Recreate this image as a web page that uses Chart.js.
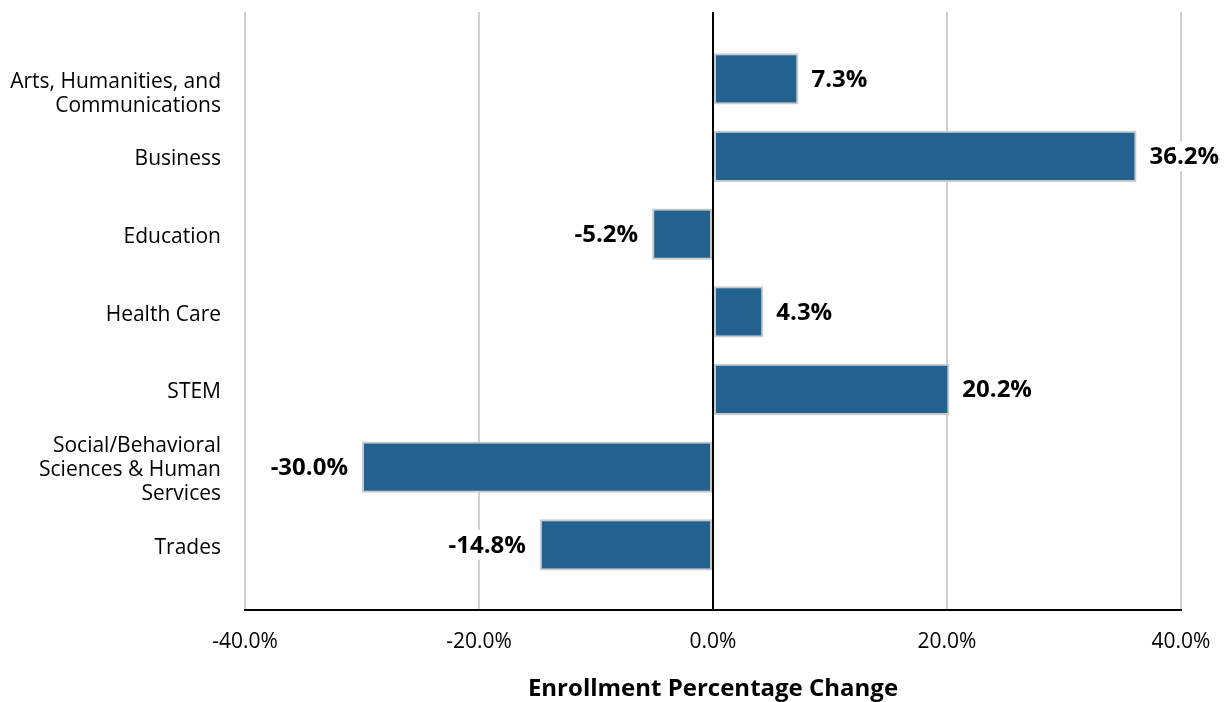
<!DOCTYPE html>
<html>
<head>
<meta charset="utf-8">
<script src="https://cdn.jsdelivr.net/npm/chart.js@4"></script>
<style>
  html, body { margin: 0; padding: 0; background: #fff; }
  #wrap { width: 1225px; height: 702px; }
</style>
</head>
<body>
<div id="wrap"><canvas id="enrollChart" width="1225" height="702"></canvas></div>
<script>
// Enrollment change by program area

// first label sits a line lower in the original, hence the leading blank line
const categories = [
  ['', 'Arts, Humanities, and', 'Communications'],
  ['Business'],
  ['Education'],
  ['Health Care'],
  ['STEM'],
  ['Social/Behavioral', 'Sciences & Human', 'Services'],
  ['Trades']
];
const changeValues = [7.3, 36.2, -5.2, 4.3, 20.2, -30.0, -14.8];
const xTicks = [-40, -20, 0, 20, 40];

const FONT = "'Open Sans', 'Noto Sans', sans-serif";

// zero line on top of the bars, labels with white box behind
const overlayPlugin = {
  id: 'overlay',
  afterDatasetsDraw(chart) {
    const ctx = chart.ctx;
    const xs = chart.scales.x;
    const area = chart.chartArea;
    const x0 = xs.getPixelForValue(0);
    ctx.save();
    ctx.strokeStyle = '#000';
    ctx.lineWidth = 2;
    ctx.beginPath();
    ctx.moveTo(x0, area.top);
    ctx.lineTo(x0, area.bottom);
    ctx.stroke();

    ctx.font = 'bold 24px ' + FONT;
    ctx.textBaseline = 'middle';
    const meta = chart.getDatasetMeta(0);
    meta.data.forEach((bar, i) => {
      const v = changeValues[i];
      const txt = v.toFixed(1) + '%';
      const w = ctx.measureText(txt).width;
      let tx;
      if (v >= 0) {
        ctx.textAlign = 'left';
        tx = bar.x + 13;
        ctx.fillStyle = '#fff';
        ctx.fillRect(tx - 2, bar.y - 15, w + 4, 30);
      } else {
        ctx.textAlign = 'right';
        tx = bar.x - 14;
        ctx.fillStyle = '#fff';
        ctx.fillRect(tx - w - 2, bar.y - 15, w + 4, 30);
      }
      ctx.fillStyle = '#000';
      ctx.fillText(txt, tx, bar.y + 1);
    });
    ctx.restore();
  }
};

new Chart(document.getElementById('enrollChart'), {
  type: 'bar',
  data: {
    datasets: [{
      data: changeValues.map((v, i) => ({ x: v, y: i })),
      backgroundColor: '#23618e',
      borderColor: '#c9c9c9',
      borderWidth: 2,
      borderSkipped: false,
      barPercentage: 0.66,
      categoryPercentage: 1
    }]
  },
  options: {
    indexAxis: 'y',
    responsive: false,
    animation: false,
    layout: { padding: { top: 12, right: 44, bottom: 0, left: 0 } },
    plugins: {
      legend: { display: false },
      tooltip: { enabled: false }
    },
    scales: {
      x: {
        type: 'linear',
        min: -40,
        max: 40,
        afterBuildTicks: (scale) => { scale.ticks = xTicks.map(v => ({ value: v })); },
        afterFit: (scale) => {
          scale.height = 92;
          scale.paddingLeft = 0;
          scale.paddingRight = 0;
        },
        ticks: {
          padding: 19,
          color: '#000',
          font: { family: FONT, size: 21 },
          callback: (v) => v.toFixed(1) + '%'
        },
        grid: {
          color: '#d0d0d0',
          lineWidth: 2,
          drawTicks: false
        },
        border: { display: true, color: '#000', width: 2 },
        title: {
          display: true,
          text: 'Enrollment Percentage Change',
          color: '#000',
          font: { family: FONT, size: 24, weight: 'bold' },
          padding: { top: 12, bottom: -2 }
        }
      },
      y: {
        type: 'linear',
        reverse: true,
        offset: false,
        min: -0.86,
        max: 6.84,
        afterBuildTicks: (scale) => { scale.ticks = categories.map((c, i) => ({ value: i })); },
        afterFit: (scale) => {
          scale.width = 245;
          scale.paddingTop = 0;
          scale.paddingBottom = 0;
        },
        ticks: {
          padding: 16,
          labelOffset: 3,
          color: '#000',
          font: { family: FONT, size: 21, lineHeight: 1.15 },
          callback: (v) => categories[v]
        },
        grid: { display: false },
        border: { display: false }
      }
    }
  },
  plugins: [overlayPlugin]
});
</script>
</body>
</html>
